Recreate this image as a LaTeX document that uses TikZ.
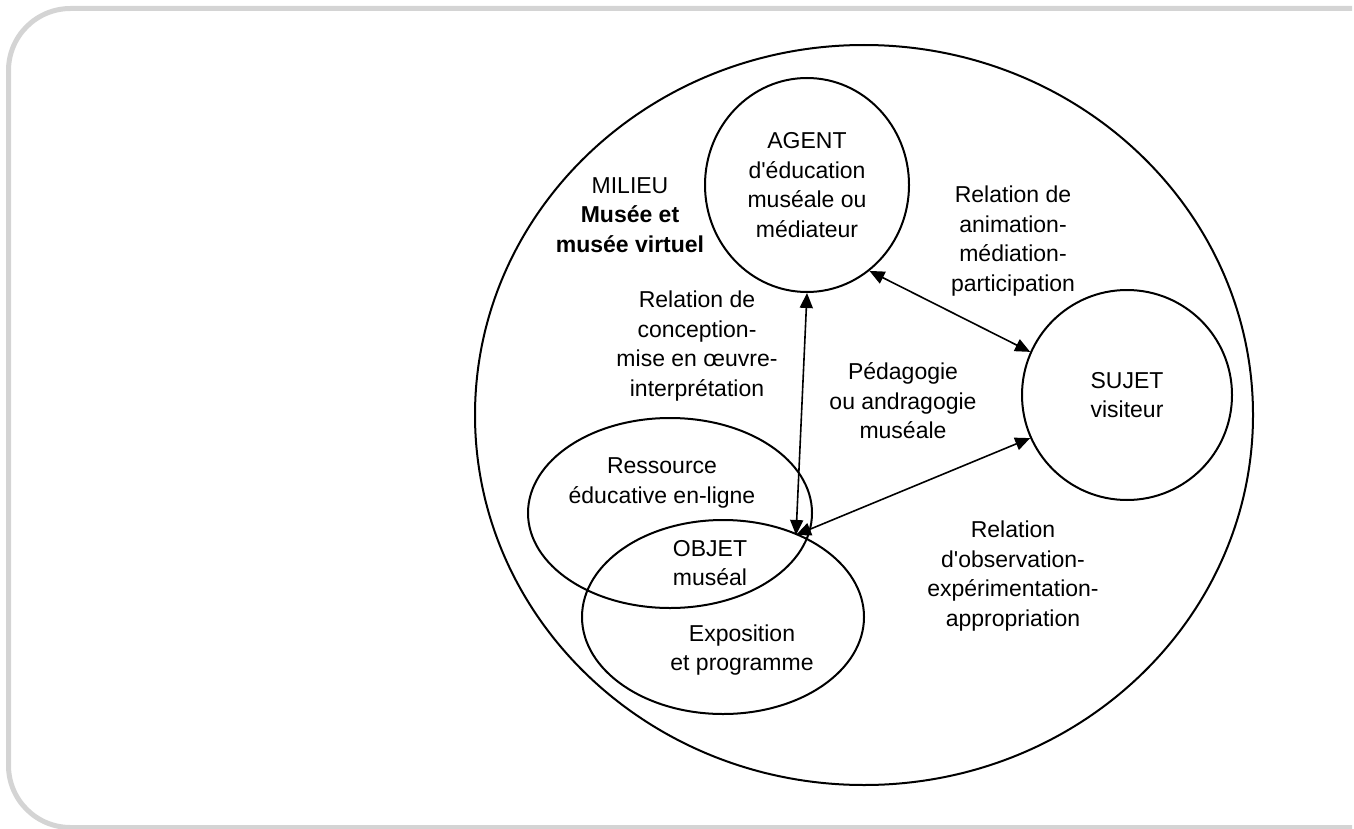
\documentclass[tikz,border=0pt]{standalone}
\usepackage{fontspec}
\setmainfont{Liberation Sans}[Ligatures=TeXOff]
\usetikzlibrary{shapes.geometric,arrows.meta}
\definecolor{framegray}{HTML}{D4D4D4}
\begin{document}
\begin{tikzpicture}[x=0.5pt,y=-0.5pt,
  lbl/.style={align=center,font=\fontsize{11.5pt}{14.75pt}\selectfont,inner sep=0pt},
  ring/.style={ellipse,draw,line width=1pt,inner sep=0pt,align=center,font=\fontsize{11.5pt}{14.75pt}\selectfont},
  rel/.style={{Triangle[length=7.5pt,width=6.5pt]}-{Triangle[length=7.5pt,width=6.5pt]},line width=0.8pt}]
\useasboundingbox (0,0) rectangle (1354,829);
\draw[line width=2.5pt,framegray,rounded corners=31pt] (1352,8.5) -- (8.5,8.5) -- (8.5,827.5) -- (1352,827.5);
% milieu
\node[ring,minimum width=389pt,minimum height=370pt] (milieu) at (864,415) {};
% agent
\node[ring,minimum width=102pt,minimum height=107pt] (agent) at (807,185) {AGENT\\d'éducation\\muséale ou\\médiateur};
% sujet
\node[ring,minimum width=105pt,minimum height=105pt] (sujet) at (1127,395) {SUJET\\visiteur};
% ressource and exposition
\node[ring,minimum width=142pt,minimum height=95pt] (ressource) at (670,513) {};
\node[ring,minimum width=141pt,minimum height=97pt] (exposition) at (723,617) {};
\coordinate (o) at (796,535);
% labels
\node[lbl] (milieut) at (630,215) {MILIEU\\\textbf{Musée et}\\\textbf{musée virtuel}};
\node[lbl] (concept) at (697,346) {Relation de\\conception-\\mise en œuvre-\\interprétation};
\node[lbl] (anim) at (1013,241) {Relation de\\animation-\\médiation-\\participation};
\node[lbl] (peda) at (903,401) {Pédagogie\\ou andragogie\\muséale};
\node[lbl] (resst) at (662,483) {Ressource\\éducative en-ligne};
\node[lbl] (objet) at (710,563) {OBJET\\muséal};
\node[lbl] (expot) at (742,650) {Exposition\\et programme};
\node[lbl] (obs) at (1013,576) {Relation\\d'observation-\\expérimentation-\\appropriation};
% arrows
\draw[rel] (agent.south) -- (o);
\draw[rel] (agent.-54) -- (sujet.156);
\draw[rel] (sujet.204) -- (o);
\end{tikzpicture}
\end{document}
